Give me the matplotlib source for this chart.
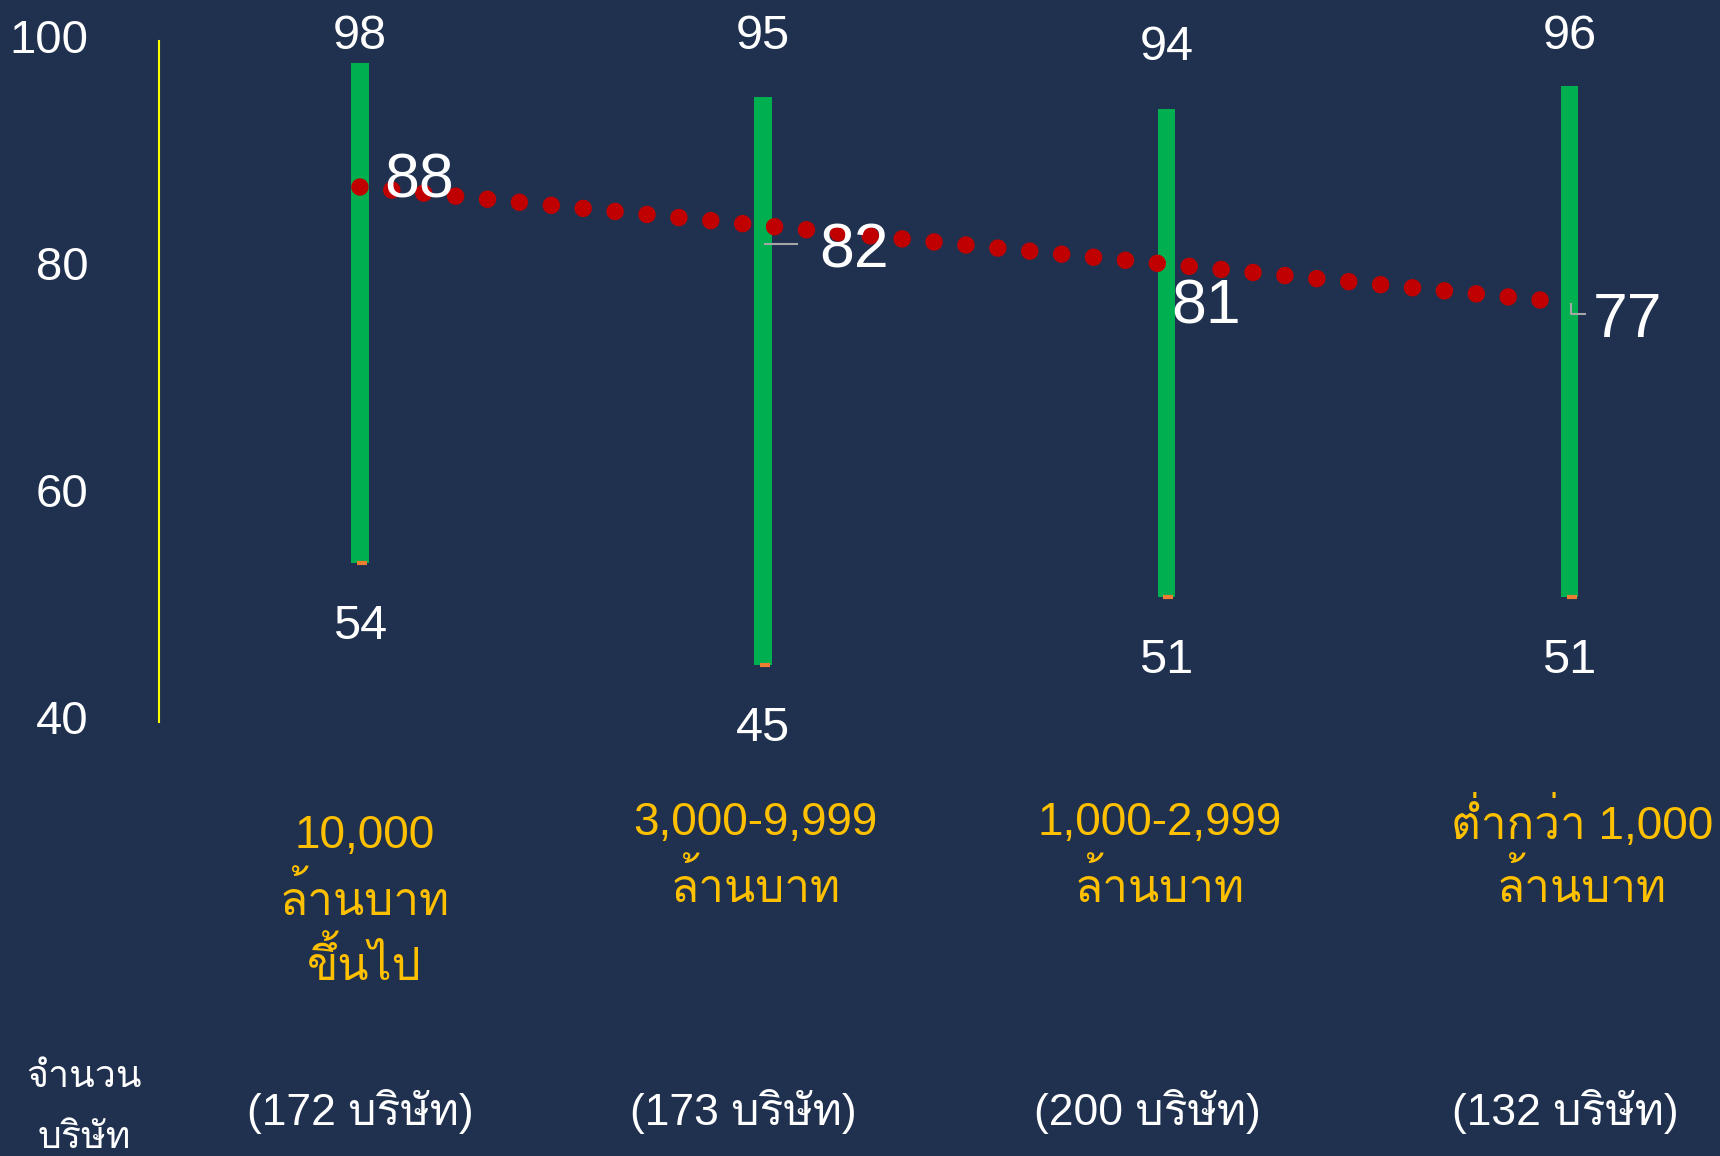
import numpy as np
import matplotlib
matplotlib.use("Agg")
import matplotlib.pyplot as plt
from matplotlib import font_manager
from fontTools.ttLib import TTFont

# data
categories = ["10,000\nล้านบาท\nขึ้นไป", "3,000-9,999\nล้านบาท",
              "1,000-2,999\nล้านบาท", "ต่ำกว่า 1,000\nล้านบาท"]
counts = ["(172 บริษัท)", "(173 บริษัท)", "(200 บริษัท)", "(132 บริษัท)"]
max_vals = [98, 95, 94, 96]
min_vals = [54, 45, 51, 51]
mean_vals = [88, 82, 81, 77]
yticks = [40, 60, 80, 100]
count_title = "จำนวน\nบริษัท"


def find_thai_font():
    for f in font_manager.fontManager.ttflist:
        try:
            fn = 0 if f.fname.lower().endswith(".ttc") else -1
            font = TTFont(f.fname, fontNumber=fn, lazy=True)
            cmap = font.getBestCmap()
            if cmap and 0x0E1A in cmap and 0x0E33 in cmap and 0x0E49 in cmap:
                return f.name
        except Exception:
            pass
    return None


thai = find_thai_font()
fam = ["Liberation Sans"] + ([thai] if thai else []) + ["DejaVu Sans"]
plt.rcParams["font.family"] = fam

bg = "#1F314F"
fig = plt.figure(figsize=(17.2, 11.56), dpi=100, facecolor=bg)
ax = fig.add_axes([0.0925, 0.3757, 0.9075, 0.5892])
ax.set_facecolor(bg)

x = np.arange(len(max_vals))
ax.set_xlim(-0.498, 3.373)
ax.set_ylim(40, 100)

# range bars
heights = np.array(max_vals) - np.array(min_vals)
ax.bar(x, heights, bottom=min_vals, width=0.0435, color="#00B050", zorder=2)
ax.plot(x + 0.005, min_vals, ls="none", marker="_", ms=7, mew=3,
        color="#ED7D31", zorder=3, clip_on=False)

# dotted trend line of means
k, b = np.polyfit(x, mean_vals, 1)
xt = np.array([0, 3])
ax.plot(xt, k * xt + b, color="#C00000", lw=12.6,
        linestyle=(0, (0.001, 1.83)), dash_capstyle="round", zorder=4)

# axis styling
for s in ["top", "right", "bottom"]:
    ax.spines[s].set_visible(False)
ax.spines["left"].set_color("#FFFF00")
ax.spines["left"].set_linewidth(1.5)
ax.set_xticks([])
ax.set_yticks(yticks)
ax.tick_params(axis="y", length=0, pad=51, labelsize=34, labelcolor="white")
for t in ax.get_yticklabels():
    t.set_verticalalignment("center")

# value labels
max_lab_y = [100.4, 100.4, 99.4, 100.4]
for i in range(len(x)):
    ax.text(x[i], max_lab_y[i], str(max_vals[i]), ha="center", va="center",
            fontsize=35, color="white", clip_on=False)
    ax.text(x[i], min_vals[i] - 5.6, str(min_vals[i]), ha="center", va="center",
            fontsize=35, color="white", clip_on=False)

mean_dx = [0.06, 0.139, 0.011, 0.057]
mean_y = [87.6, 81.5, 76.5, 75.3]
for i in range(len(x)):
    ax.text(x[i] + mean_dx[i], mean_y[i], str(mean_vals[i]), ha="left",
            va="center", fontsize=45, color="white", zorder=5, clip_on=False)

# leader lines
ax.plot([1.0035, 1.085], [82.1, 82.1], color="#A6A6A6", lw=1.5, zorder=3)
ax.plot([3.003, 3.003, 3.038], [76.8, 75.9, 75.9], color="#A6A6A6", lw=1.5,
        zorder=3)

# category labels
cat_dx = [0.011, -0.02, -0.017, 0.03]
cat_top = [29.95, 31.1, 31.1, 31.1]
for i, c in enumerate(categories):
    for j, line in enumerate(c.split("\n")):
        ax.text(x[i] + cat_dx[i], cat_top[i] - j * 5.7, line, ha="center",
                va="center", fontsize=33, color="#FFC000", clip_on=False)

cnt_dx = [0.0, -0.05, -0.047, -0.01]
for i, c in enumerate(counts):
    ax.text(x[i] + cnt_dx[i], 5.7, c, ha="center", va="center", fontsize=32,
            color="white", clip_on=False)

for j, line in enumerate(count_title.split("\n")):
    ax.text(-0.683, 8.7 - j * 5.4, line, ha="center", va="center",
            fontsize=27, color="white", clip_on=False)

fig.savefig("out.png", dpi=100, facecolor=bg)
